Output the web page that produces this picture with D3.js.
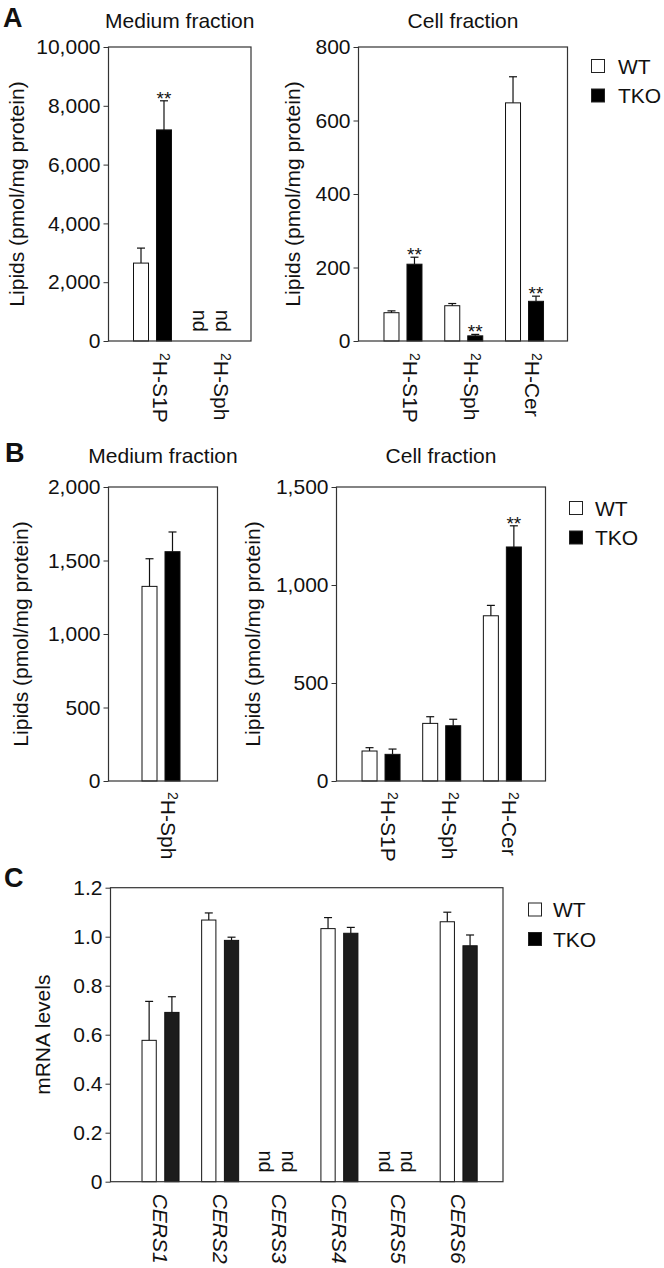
<!DOCTYPE html>
<html><head><meta charset="utf-8">
<script src="https://cdn.jsdelivr.net/npm/d3@7"></script>
<style>
body{margin:0;background:#fff}
svg{display:block}
text{font-family:"Liberation Sans",Arial,Helvetica,sans-serif;fill:#111}
</style>
</head><body>
<svg id="chart" width="664" height="1268"></svg>
<script>
// ---------- data ----------
const series = ["WT", "TKO"];

// Panel A – medium fraction
const aMedCats = ["S1P", "Sph"];
const aMedWT = [2650, null];
const aMedWTErr = [510, null];
const aMedTKO = [7180, null];
const aMedTKOErr = [990, null];
const aMedSig = [true, false];
const aMedTicks = [0, 2000, 4000, 6000, 8000, 10000];
const aMedTickLabels = ["0", "2,000", "4,000", "6,000", "8,000", "10,000"];

// Panel A – cell fraction
const aCellCats = ["S1P", "Sph", "Cer"];
const aCellWT = [77, 96, 648];
const aCellWTErr = [5, 6, 71];
const aCellTKO = [209, 14, 108];
const aCellTKOErr = [19, 4, 14];
const aCellSig = [true, true, true];
const aCellTicks = [0, 200, 400, 600, 800];
const aCellTickLabels = ["0", "200", "400", "600", "800"];

// Panel B – medium fraction
const bMedCats = ["Sph"];
const bMedWT = [1324];
const bMedWTErr = [188];
const bMedTKO = [1560];
const bMedTKOErr = [134];
const bMedSig = [false];
const bMedTicks = [0, 500, 1000, 1500, 2000];
const bMedTickLabels = ["0", "500", "1,000", "1,500", "2,000"];

// Panel B – cell fraction
const bCellCats = ["S1P", "Sph", "Cer"];
const bCellWT = [153, 294, 843];
const bCellWTErr = [17, 34, 53];
const bCellTKO = [136, 282, 1194];
const bCellTKOErr = [27, 33, 108];
const bCellSig = [false, false, true];
const bCellTicks = [0, 500, 1000, 1500];
const bCellTickLabels = ["0", "500", "1,000", "1,500"];

// Panel C – mRNA levels
const cCats = ["CERS1", "CERS2", "CERS3", "CERS4", "CERS5", "CERS6"];
const cWT = [0.577, 1.068, null, 1.033, null, 1.061];
const cWTErr = [0.159, 0.029, null, 0.045, null, 0.039];
const cTKO = [0.691, 0.985, null, 1.014, null, 0.963];
const cTKOErr = [0.064, 0.013, null, 0.024, null, 0.044];
const cSig = [false, false, false, false, false, false];
const cTicks = [0, 0.2, 0.4, 0.6, 0.8, 1.0, 1.2];
const cTickLabels = ["0", "0.2", "0.4", "0.6", "0.8", "1.0", "1.2"];

// ---------- drawing ----------
const svg = d3.select("#chart");
const FS = 21;

function panel(o) {
  const g = svg.append("g");
  const y = d3.scaleLinear().domain([0, o.yMax]).range([o.bottom, o.top]);
  const x0 = d3.scaleBand().domain(o.cats).range(o.band);
  const x1 = d3.scaleBand().domain(series).range([-o.half, o.half]).paddingInner(o.pin);
  const cx = c => x0(c) + x0.bandwidth() / 2;

  // y axis
  const ax = g.append("g").attr("transform", `translate(${o.left},0)`)
    .call(d3.axisLeft(y).tickValues(o.ticks).tickFormat((d, i) => o.tickLabels[i]).tickSize(5).tickPadding(3));
  ax.select(".domain").remove();
  ax.selectAll("line").attr("stroke", "#333");
  ax.selectAll("text").attr("font-size", FS).attr("fill", "#111")
    .style("font-family", '"Liberation Sans",Arial,sans-serif');

  const rows = o.cats.map((c, i) => ({
    cat: c,
    vals: [
      { s: "WT", v: o.wt[i], e: o.wtErr[i], sig: false },
      { s: "TKO", v: o.tko[i], e: o.tkoErr[i], sig: o.sig[i] }
    ]
  }));

  const grp = g.selectAll(".grp").data(rows).join("g")
    .attr("transform", d => `translate(${cx(d.cat)},0)`);

  const items = grp.selectAll(".it").data(d => d.vals).join("g");

  // bars
  items.filter(d => d.v != null).append("rect")
    .attr("x", d => x1(d.s) + 0.5)
    .attr("y", d => y(d.v))
    .attr("width", x1.bandwidth() - 1)
    .attr("height", d => o.bottom - y(d.v))
    .attr("fill", d => d.s === "WT" ? "#fff" : o.dark)
    .attr("stroke", "#111").attr("stroke-width", 1);

  // error bars (upper)
  const eb = items.filter(d => d.v != null && d.e != null);
  eb.append("line")
    .attr("x1", d => x1(d.s) + x1.bandwidth() / 2).attr("x2", d => x1(d.s) + x1.bandwidth() / 2)
    .attr("y1", d => y(d.v)).attr("y2", d => y(d.v + d.e))
    .attr("stroke", "#111").attr("stroke-width", 1.2);
  eb.append("line")
    .attr("x1", d => x1(d.s) + x1.bandwidth() / 2 - 4).attr("x2", d => x1(d.s) + x1.bandwidth() / 2 + 4)
    .attr("y1", d => y(d.v + d.e)).attr("y2", d => y(d.v + d.e))
    .attr("stroke", "#111").attr("stroke-width", 1.2);

  // significance
  items.filter(d => d.v != null && d.sig).append("text")
    .attr("x", d => x1(d.s) + x1.bandwidth() / 2)
    .attr("y", d => y(d.v + (d.e || 0)) + 4)
    .attr("text-anchor", "middle").attr("font-size", 19)
    .text("**");

  // nd labels
  items.filter(d => d.v == null).append("text")
    .attr("transform", d => `translate(${x1(d.s) + x1.bandwidth() / 2},${o.bottom - 9}) rotate(90)`)
    .attr("text-anchor", "end").attr("dy", "0.45em").attr("font-size", 20)
    .text("nd");

  // frame
  g.append("rect").attr("x", o.left).attr("y", o.top)
    .attr("width", o.right - o.left).attr("height", o.bottom - o.top)
    .attr("fill", "none").attr("stroke", "#333").attr("stroke-width", 1.2);

  // x labels (rotated)
  rows.forEach(r => {
    const t = g.append("text")
      .attr("transform", `translate(${cx(r.cat)},${o.bottom + o.labOff}) rotate(90)`)
      .attr("dy", "0.36em").attr("font-size", FS);
    if (o.italic) {
      t.attr("font-style", "italic").text(r.cat);
    } else {
      t.append("tspan").attr("font-size", 14).attr("dy", "-0.5em").text("2");
      t.append("tspan").attr("dy", "0.33em").text("H-" + r.cat);
    }
  });

  // title
  if (o.title) {
    g.append("text").attr("x", (o.left + o.right) / 2).attr("y", o.titleY)
      .attr("text-anchor", "middle").attr("font-size", FS).text(o.title);
  }
  // y title (x given as baseline position)
  g.append("text")
    .attr("transform", `translate(${o.yTitleX},${(o.top + o.bottom) / 2}) rotate(-90)`)
    .attr("text-anchor", "middle").attr("font-size", FS).text(o.yTitle);
}

function legend(x, yTop, textX) {
  const lg = svg.append("g");
  series.forEach((s, i) => {
    const yy = yTop + i * 29.5;
    lg.append("rect").attr("x", x + 0.5).attr("y", yy + 0.5).attr("width", 13).attr("height", 13)
      .attr("fill", s === "WT" ? "#fff" : "#000").attr("stroke", "#222").attr("stroke-width", 1);
    lg.append("text").attr("x", textX).attr("y", yy + 14.5).attr("font-size", FS).text(s);
  });
}

function letter(t, x, y) {
  svg.append("text").attr("x", x).attr("y", y).attr("font-size", 27)
    .attr("font-weight", "bold").attr("fill", "#000").text(t);
}

const yLip = "Lipids (pmol/mg protein)";

panel({ cats: aMedCats, wt: aMedWT, wtErr: aMedWTErr, tko: aMedTKO, tkoErr: aMedTKOErr, sig: aMedSig,
  yMax: 10000, ticks: aMedTicks, tickLabels: aMedTickLabels,
  left: 108.5, right: 251, top: 47, bottom: 341, band: [122, 244], half: 19.5, pin: 0.304,
  dark: "#000", labOff: 12, title: "Medium fraction", titleY: 28, yTitle: yLip, yTitleX: 23.5 });

panel({ cats: aCellCats, wt: aCellWT, wtErr: aCellWTErr, tko: aCellTKO, tkoErr: aCellTKOErr, sig: aCellSig,
  yMax: 800, ticks: aCellTicks, tickLabels: aCellTickLabels,
  left: 358.5, right: 567.5, top: 47, bottom: 341, band: [372.6, 554.9], half: 19.5, pin: 0.304,
  dark: "#000", labOff: 12, title: "Cell fraction", titleY: 28, yTitle: yLip, yTitleX: 300 });

panel({ cats: bMedCats, wt: bMedWT, wtErr: bMedWTErr, tko: bMedTKO, tkoErr: bMedTKOErr, sig: bMedSig,
  yMax: 2000, ticks: bMedTicks, tickLabels: bMedTickLabels,
  left: 108.5, right: 217.5, top: 487, bottom: 781, band: [131, 191], half: 19.5, pin: 0.304,
  dark: "#000", labOff: 11, title: "Medium fraction", titleY: 463, yTitle: yLip, yTitleX: 28 });

panel({ cats: bCellCats, wt: bCellWT, wtErr: bCellWTErr, tko: bCellTKO, tkoErr: bCellTKOErr, sig: bCellSig,
  yMax: 1500, ticks: bCellTicks, tickLabels: bCellTickLabels,
  left: 336.5, right: 545.5, top: 487, bottom: 781, band: [350.7, 532.7], half: 19.5, pin: 0.304,
  dark: "#000", labOff: 11, title: "Cell fraction", titleY: 463, yTitle: yLip, yTitleX: 260 });

panel({ cats: cCats, wt: cWT, wtErr: cWTErr, tko: cTKO, tkoErr: cTKOErr, sig: cSig,
  yMax: 1.2, ticks: cTicks, tickLabels: cTickLabels,
  left: 110.5, right: 503, top: 887.7, bottom: 1181.7, band: [130.7, 488.5], half: 19, pin: 0.33,
  dark: "#1c1c1c", labOff: 12, italic: true, title: null, yTitle: "mRNA levels", yTitleX: 49.5 });

legend(591, 59, 618);
legend(569, 501, 595);
legend(528, 902.5, 553);

letter("A", 3, 27);
letter("B", 5, 462);
letter("C", 4, 887);
</script>
</body></html>
